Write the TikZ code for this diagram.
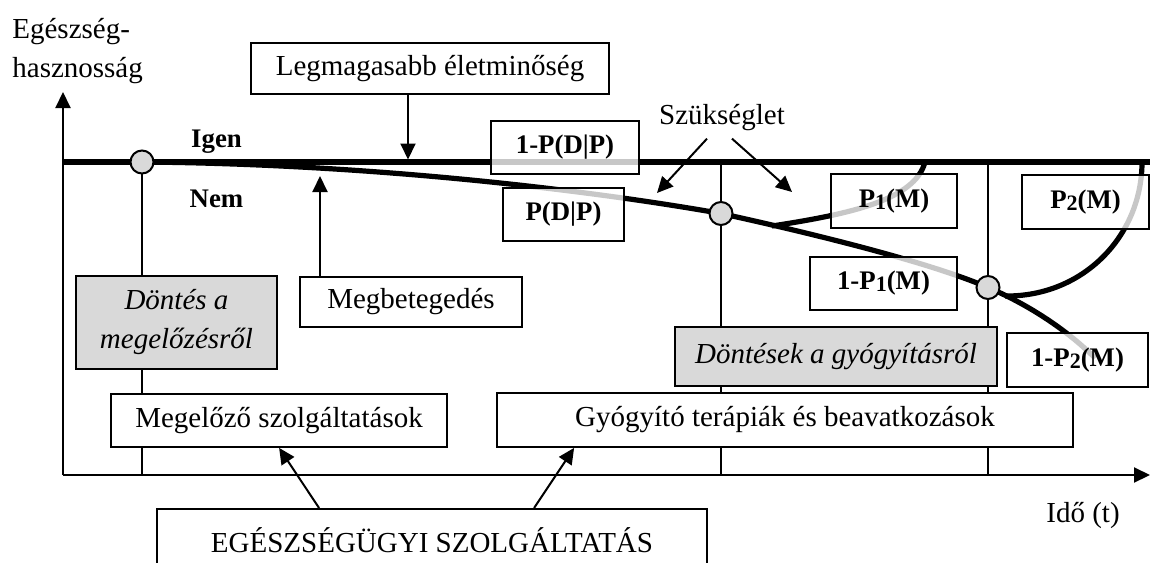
\documentclass[tikz,border=0pt]{standalone}
\usepackage{fontspec}
\setmainfont{Liberation Serif}
\usetikzlibrary{arrows.meta,calc}
\pgfdeclarelayer{background}
\pgfsetlayers{background,main}
\definecolor{boxgrey}{HTML}{D9D9D9}
\newcommand{\subone}[1]{\raisebox{-0.8pt}{\fontsize{11}{11}\selectfont #1}}
\begin{document}
\begin{tikzpicture}[x=0.5pt,y=-0.5pt,
  every node/.style={font=\fontsize{14.5}{19.5}\selectfont},
  box/.style={draw, line width=0.9pt, fill=white, inner sep=0pt},
  probbox/.style={draw, line width=0.9pt, fill=white, fill opacity=0.78, text opacity=1, inner sep=0pt, font=\fontsize{13.4}{16}\selectfont\bfseries},
  greybox/.style={box, fill=boxgrey, font=\fontsize{14.5}{19.5}\selectfont\itshape},
  thinline/.style={line width=1pt},
  thickline/.style={line width=2.6pt},
  arr/.style={line width=1pt, -{Triangle[length=8pt,width=7.5pt]}},
  dot/.style={circle, draw, line width=1pt, fill=boxgrey, minimum size=11.5pt, inner sep=0pt},
  lbl/.style={font=\fontsize{13.4}{16}\selectfont\bfseries}
]
\useasboundingbox (0,0) rectangle (1150,562);
\clip (0,0) rectangle (1150,562);

% key coordinates
\coordinate (o) at (63,475);
\coordinate (xe) at (1150,475);
\coordinate (ye) at (63,92);
\coordinate (igenL) at (63,162);
\coordinate (igenR) at (1150,162);
\coordinate (nemend) at (1095,358);
\coordinate (b1s) at (772,226);
\coordinate (b1e) at (925,162);
\coordinate (b2s) at (1005,296);
\coordinate (b2e) at (1142,162);
\coordinate (lgtip) at (408,159.5);
\coordinate (nemtip) at (320,176);
\coordinate (sz1tip) at (657,193);
\coordinate (sz2tip) at (792,192);

% decision points
\node[dot] (c1) at (142,162) {};
\node[dot] (c2) at (721,213.5) {};
\node[dot] (c3) at (988,287.5) {};

% labels
\node[anchor=base west, align=left, inner sep=0pt] (ylab) at (12,77) {Egészség-\\hasznosság};
\node[anchor=base, inner sep=0pt] (szuk) at (722,124) {Szükséglet};
\node[lbl, anchor=base, inner sep=0pt] (igen) at (216.5,147) {Igen};
\node[lbl, anchor=base, inner sep=0pt] (nem) at (216.5,207) {Nem};
\node[anchor=base, inner sep=0pt] (ido) at (1083,522) {Idő (t)};

% boxes
\node[box, minimum width=179pt, minimum height=25.5pt] (leg) at (430,68.5) {Legmagasabb életminőség};
\node[probbox, minimum width=74pt, minimum height=26.5pt] (pdp1) at (565,147.5) {1-P(D|P)};
\node[probbox, minimum width=60.5pt, minimum height=26.5pt] (pdp) at (563.5,214.5) {P(D|P)};
\node[probbox, minimum width=63pt, minimum height=27pt] (p1m) at (894,201) {P\subone{1}(M)};
\node[probbox, minimum width=63.5pt, minimum height=27pt] (p2m) at (1085.5,202) {P\subone{2}(M)};
\node[probbox, minimum width=73.5pt, minimum height=26.5pt] (q1m) at (883.5,283.5) {1-P\subone{1}(M)};
\node[probbox, minimum width=70.5pt, minimum height=27pt] (q2m) at (1077.5,360) {1-P\subone{2}(M)};
\node[greybox, minimum width=161pt, minimum height=29.5pt] (dgy) at (836,356.5) {Döntések a gyógyításról};
\node[greybox, minimum width=100.5pt, minimum height=46.5pt, align=center] (dm) at (176.5,322.5) {Döntés a\\megelőzésről};
\node[box, minimum width=111pt, minimum height=25pt] (megb) at (411,302) {Megbetegedés};
\node[box, minimum width=288pt, minimum height=27pt] (gyogy) at (785,420) {Gyógyító terápiák és beavatkozások};
\node[box, minimum width=168pt, minimum height=26.5pt] (megsz) at (279,420.5) {Megelőző szolgáltatások};
\node[box, anchor=north, minimum width=275pt, text height=12pt, text depth=20pt, inner ysep=10pt, inner xsep=0pt] (egesz) at (432,508) {EGÉSZSÉGÜGYI SZOLGÁLTATÁS};

\begin{pgfonlayer}{background}
  % time lines
  \draw[thinline] (c1.center) -- (c1.center |- o);
  \draw[thinline] (c2.center |- igenL) -- (c2.center |- o);
  \draw[thinline] (c3.center |- igenL) -- (c3.center |- o);
  % axes
  \draw[arr] (o) -- (ye);
  \draw[arr] (o) -- (xe);
  % health paths
  \draw[thickline] (igenL) -- (igenR);
  \draw[thickline] (c1.center) .. controls (380,164) and (600,192) .. (c2.center)
     .. controls (810,233) and (929,262) .. (c3.center)
     .. controls (1025,303) and (1065,328) .. (nemend);
  \draw[thickline] (b1s) .. controls (850,214) and (915,200) .. (b1e);
  \draw[thickline] (b2s) .. controls (1083,297) and (1142,236) .. (b2e);
  % pointers
  \draw[arr] (leg.south -| lgtip) -- (lgtip);
  \draw[arr] (megb.north -| nemtip) -- (nemtip);
  \draw[arr] ($(szuk.south)+(-15,8)$) -- (sz1tip);
  \draw[arr] ($(szuk.south)+(10,8)$) -- (sz2tip);
  \draw[arr] ($(egesz.north west)+(163,0)$) -- ($(megsz.south west)+(169,0)$);
  \draw[arr] ($(egesz.north west)+(378,0)$) -- ($(gyogy.south west)+(78,0)$);
\end{pgfonlayer}
\end{tikzpicture}
\end{document}
